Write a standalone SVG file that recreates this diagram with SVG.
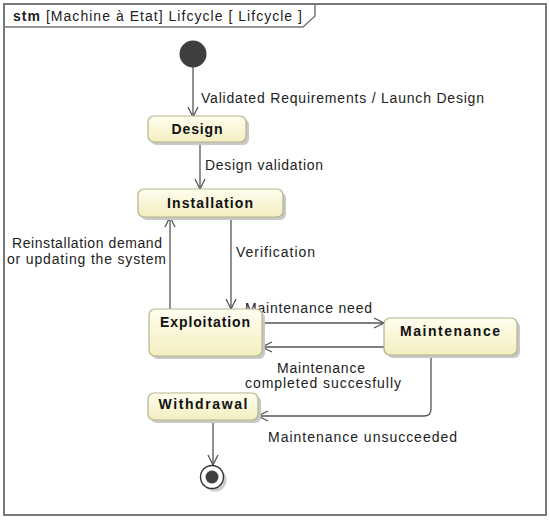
<svg xmlns="http://www.w3.org/2000/svg" width="550" height="520" viewBox="0 0 550 520">
<defs>
<linearGradient id="g" x1="0" y1="0" x2="0" y2="1">
<stop offset="0" stop-color="#fffef0"/>
<stop offset="1" stop-color="#f3eebf"/>
</linearGradient>
<marker id="a" viewBox="0 0 12 12" refX="11" refY="6" markerWidth="12" markerHeight="12" markerUnits="userSpaceOnUse" orient="auto">
<path d="M1,1 L11,6 L1,11" fill="none" stroke="#555" stroke-width="1.3"/>
</marker>
</defs>
<style>
.st{fill:url(#g);stroke:#b5b58a;stroke-width:1.2}
.sh{fill:#c8c8c8}
.n{font-family:"Liberation Sans",Arial,sans-serif;font-size:14px;font-weight:bold;fill:#111;text-anchor:middle}
.l{font-family:"Liberation Sans",Arial,sans-serif;font-size:14px;fill:#222}
.c{stroke:#555;stroke-width:1.3;fill:none}
</style>
<rect width="550" height="520" fill="#fff"/>
<g id="frame">
<rect x="4" y="4" width="542" height="511" fill="none" stroke="#777" stroke-width="2"/>
<path d="M4,27 L303,27 L315,16 L315,4" fill="none" stroke="#777" stroke-width="1.5"/>
<text x="13" y="21" class="l" textLength="289" lengthAdjust="spacing"><tspan font-weight="bold">stm</tspan>  [Machine à Etat] Lifcycle [ Lifcycle ]</text>
</g>
<g id="connectors">
<line x1="193" y1="67" x2="193" y2="117" class="c" marker-end="url(#a)"/>
<text x="201" y="103" class="l" textLength="283" lengthAdjust="spacing">Validated Requirements / Launch Design</text>
<line x1="200" y1="143" x2="200" y2="189" class="c" marker-end="url(#a)"/>
<text x="205" y="170" class="l" textLength="118" lengthAdjust="spacing">Design validation</text>
<line x1="170" y1="309" x2="170" y2="217" class="c" marker-end="url(#a)"/>
<text x="12" y="248" class="l" textLength="150" lengthAdjust="spacing">Reinstallation demand</text>
<text x="7" y="264" class="l" textLength="159" lengthAdjust="spacing">or updating the system</text>
<line x1="231" y1="217" x2="231" y2="309" class="c" marker-end="url(#a)"/>
<text x="236" y="257" class="l" textLength="79" lengthAdjust="spacing">Verification</text>
<line x1="262" y1="323" x2="384" y2="323" class="c" marker-end="url(#a)"/>
<text x="245" y="313" class="l" textLength="127" lengthAdjust="spacing">Maintenance need</text>
<line x1="384" y1="347" x2="262" y2="347" class="c" marker-end="url(#a)"/>
<text x="277" y="373" class="l" textLength="88" lengthAdjust="spacing">Maintenance</text>
<text x="245" y="388" class="l" textLength="156" lengthAdjust="spacing">completed succesfully</text>
<path d="M431,355 L431,409 Q431,416 424,416 L258,416" class="c" marker-end="url(#a)"/>
<text x="268" y="442" class="l" textLength="189" lengthAdjust="spacing">Maintenance unsucceeded</text>
<line x1="213" y1="420" x2="213" y2="465" class="c" marker-end="url(#a)"/>
</g>
<g id="initial">
<circle cx="193" cy="54" r="13.5" fill="#3f3f3f"/>
</g>
<g id="design">
<rect x="151" y="119" width="98" height="26" rx="6" class="sh"/>
<rect x="148" y="116" width="98" height="26" rx="6" class="st"/>
<text x="197" y="134" class="n" textLength="51" lengthAdjust="spacing">Design</text>
</g>
<g id="installation">
<rect x="141" y="192" width="145" height="28" rx="6" class="sh"/>
<rect x="138" y="189" width="145" height="28" rx="6" class="st"/>
<text x="210" y="208" class="n" textLength="86" lengthAdjust="spacing">Installation</text>
</g>
<g id="exploitation">
<rect x="152" y="312" width="113" height="47" rx="6" class="sh"/>
<rect x="149" y="309" width="113" height="47" rx="6" class="st"/>
<text x="205" y="327" class="n" textLength="90" lengthAdjust="spacing">Exploitation</text>
</g>
<g id="maintenance">
<rect x="387" y="321" width="133" height="37" rx="6" class="sh"/>
<rect x="384" y="318" width="133" height="37" rx="6" class="st"/>
<text x="450" y="336" class="n" textLength="100" lengthAdjust="spacing">Maintenance</text>
</g>
<g id="withdrawal">
<rect x="151" y="396" width="110" height="27" rx="6" class="sh"/>
<rect x="148" y="393" width="110" height="27" rx="6" class="st"/>
<text x="203" y="409" class="n" textLength="89" lengthAdjust="spacing">Withdrawal</text>
</g>
<g id="final">
<circle cx="215" cy="480" r="11.5" fill="#ccc"/>
<circle cx="212" cy="477" r="11.5" fill="#fff" stroke="#333" stroke-width="1.4"/>
<circle cx="212" cy="477" r="6.5" fill="#3f3f3f"/>
</g>
</svg>
